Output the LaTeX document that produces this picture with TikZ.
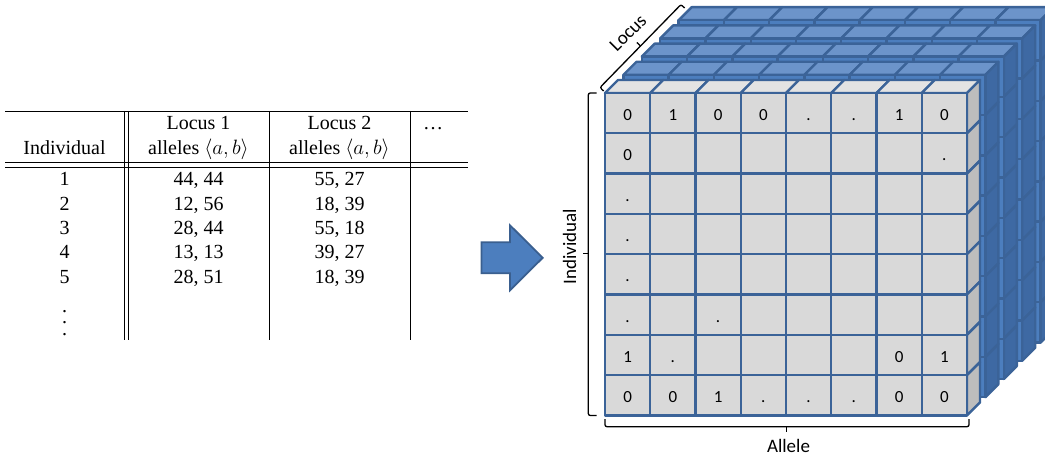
\documentclass[tikz,border=0pt]{standalone}
\usepackage{fontspec}
\usepackage{amsmath}
\setmainfont{Liberation Serif}
\newfontfamily\cubefont{Carlito}
\usetikzlibrary{positioning,calc}
\definecolor{gridline}{HTML}{3B6398}
\definecolor{greyfront}{HTML}{D9D9D9}
\definecolor{greytop}{HTML}{E3E3E3}
\definecolor{greyside}{HTML}{BDBDBD}
\definecolor{bluefront}{HTML}{4C7EBE}
\definecolor{bluetop}{HTML}{6C94CA}
\definecolor{blueside}{HTML}{3E69A3}
\definecolor{arrowline}{HTML}{3A5F8F}
\tikzset{
	rule/.style={draw=black, line width=0.9pt},
	tab/.style={font=\fontsize{20}{24}\selectfont, inner sep=0pt, anchor=base},
	cell/.style={draw=gridline, line width=2.4pt, line join=round},
	val/.style={font=\cubefont\fontsize{17}{20}\selectfont, inner sep=0pt, anchor=base},
	axis/.style={font=\cubefont\fontsize{19}{23}\selectfont, inner sep=0pt},
	bracket/.style={draw=black, line width=1.3pt, rounded corners=2pt},
}

\begin{document}
\begin{tikzpicture}[x=1pt, y=-1pt]
	\useasboundingbox (0,0) rectangle (1045,457);
	\clip (0,0) rectangle (1045,457);
	
	\foreach \y in {111,162.3,167.7}
		\draw[rule] (5,\y) -- (468,\y);
	\foreach \x in {124,128.3,269.3,410.7}
		\draw[rule] (\x,111) -- (\x,340);
	
	\node[tab] (ind) at (64.5,155) {Individual};
	\node[tab] (l1a) at (198.5,129.3) {Locus 1};
	\node[tab] (l1b) at (198.5,155) {alleles $\langle a, b\rangle$};
	\node[tab] (l2a) at (339.5,129.3) {Locus 2};
	\node[tab] (l2b) at (339.5,155) {alleles $\langle a, b\rangle$};
	\node[tab] (more) at (433,129.3) {\dots};
	\foreach \i/\a/\b [count=\r from 0] in {1/{44, 44}/{55, 27}, 2/{12, 56}/{18, 39}, 3/{28, 44}/{55, 18}, 4/{13, 13}/{39, 27}, 5/{28, 51}/{18, 39}} {
		\node[tab] (id\i) at (64.5,186+24.3*\r) {\i};
		\node[tab] (la\i) at (198.5,186+24.3*\r) {\a};
		\node[tab] (lb\i) at (339.5,186+24.3*\r) {\b};
	}
	\foreach \y [count=\n] in {312.5,323.7,335.3}
		\node[tab] (vd\n) at (64.5,\y) {.};
	
	\coordinate (ar1) at (481.5,242.3);
	\coordinate (ar2) at (510,242.3);
	\coordinate (ar3) at (510,225.3);
	\coordinate (ar4) at (542.7,257.8);
	\coordinate (ar5) at (510,290.3);
	\coordinate (ar6) at (510,273.3);
	\coordinate (ar7) at (481.5,273.3);
	\draw[fill=bluefront, draw=arrowline, line width=1.8pt, line join=miter]
		(ar1) -- (ar2) -- (ar3) -- (ar4) -- (ar5) -- (ar6) -- (ar7) -- cycle;
	
	\foreach \k/\cf/\ct/\cs in {4/bluefront/bluetop/blueside, 3/bluefront/bluetop/blueside, 2/bluefront/bluetop/blueside, 1/bluefront/bluetop/blueside, 0/greyfront/greytop/greyside} {
		\pgfmathsetmacro{\ox}{605+18.4*\k}
		\pgfmathsetmacro{\oy}{93-18.2*\k}
		\foreach \c in {0,...,7}
			\draw[cell, fill=\ct] (\ox+45.25*\c,\oy) -- ++(13,-13) -- ++(45.25,0) -- ++(-13,13) -- cycle;
		\foreach \r in {0,...,7}
			\draw[cell, fill=\cs] (\ox+362,\oy+40.3*\r) -- ++(13,-13) -- ++(0,40.3) -- ++(-13,13) -- cycle;
		\foreach \r in {0,...,7}
			\foreach \c in {0,...,7}
				\draw[cell, fill=\cf] (\ox+45.25*\c,\oy+40.3*\r) rectangle ++(45.25,40.3);
	}
	
	\foreach \r/\c/\v in {0/0/0, 0/1/1, 0/2/0, 0/3/0, 0/4/., 0/5/., 0/6/1, 0/7/0, 1/0/0, 1/7/., 2/0/., 3/0/., 4/0/., 5/0/., 5/2/., 6/0/1, 6/1/., 6/6/0, 6/7/1, 7/0/0, 7/1/0, 7/2/1, 7/3/., 7/4/., 7/5/., 7/6/0, 7/7/0}
		\node[val] (v\r\c) at (627.6+45.25*\c,120.7+40.3*\r) {\v};
	
	\coordinate (ib1) at (596.5,93);
	\coordinate (ib2) at (596.5,415.5);
	\coordinate (ibm) at (588.3,253.3);
	\coordinate (ibt) at (583,253.3);
	\draw[bracket] (ib1) -- (588.3,93) -- (ibm) -- (588.3,415.5) -- (ib2);
	\draw[bracket] (ibm) -- (ibt);
	\node[axis, rotate=90] (individual) at (569.5,246.5) {Individual};
	
	\coordinate (ab1) at (605,419);
	\coordinate (ab2) at (969,419);
	\coordinate (abm) at (786.5,426.7);
	\coordinate (abt) at (786.5,432);
	\draw[bracket] (ab1) -- (605,426.7) -- (abm) -- (969,426.7) -- (ab2);
	\draw[bracket] (abm) -- (abt);
	\node[axis] (allele) at (788.5,445.5) {Allele};
	
	\coordinate (lb1) at (603.6,91);
	\coordinate (lb2) at (684.6,8);
	\coordinate (lbm) at ($(600,87.5)!0.5!(681,4.5)$);
	\coordinate (lbt) at ($(lbm)+(-3.6,-3.5)$);
	\draw[bracket] (lb1) -- (600,87.5) -- (lbm) -- (681,4.5) -- (lb2);
	\draw[bracket] (lbm) -- (lbt);
	\node[axis, rotate=45] (locus) at (628,33) {Locus};
\end{tikzpicture}
\end{document}
